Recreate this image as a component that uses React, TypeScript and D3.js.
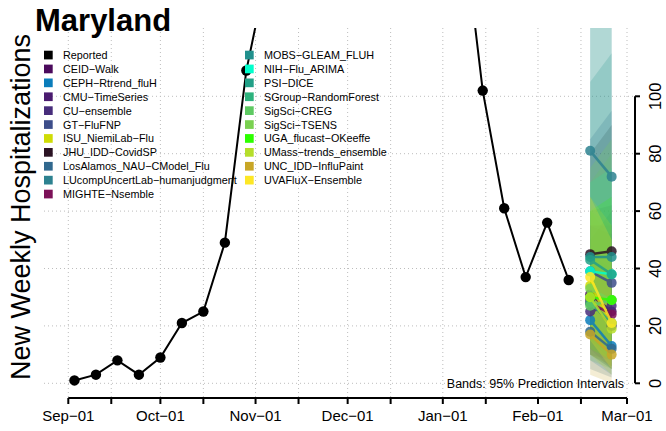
import React from 'react';
import * as d3 from 'd3';

// reported weekly hospitalizations (values above ~124 run off the top of the plot)
const reportedDates = [
  '2023-09-03', '2023-09-10', '2023-09-17', '2023-09-24', '2023-10-01', '2023-10-08',
  '2023-10-15', '2023-10-22', '2023-10-29', '2023-11-05', '2023-11-12', '2023-11-19',
  '2023-11-26', '2023-12-03', '2023-12-10', '2023-12-17', '2023-12-24', '2023-12-31',
  '2024-01-07', '2024-01-14', '2024-01-21', '2024-01-28', '2024-02-04', '2024-02-11',
];
const reportedValues = [
  1, 3, 8, 3, 9, 21, 25, 49, 109, 145, 210, 280,
  340, 390, 430, 470, 440, 330, 165, 102, 61, 37, 56, 36,
];

const forecastDates = ['2024-02-18', '2024-02-25'];

const models = [
  'CEID−Walk', 'CEPH−Rtrend_fluH', 'CMU−TimeSeries', 'CU−ensemble', 'GT−FluFNP',
  'ISU_NiemiLab−Flu', 'JHU_IDD−CovidSP', 'LosAlamos_NAU−CModel_Flu',
  'LUcompUncertLab−humanjudgment', 'MIGHTE−Nsemble', 'MOBS−GLEAM_FLUH', 'NIH−Flu_ARIMA',
  'PSI−DICE', 'SGroup−RandomForest', 'SigSci−CREG', 'SigSci−TSENS', 'UGA_flucast−OKeeffe',
  'UMass−trends_ensemble', 'UNC_IDD−InfluPaint', 'UVAFluX−Ensemble',
];
const modelColors = [
  '#4b0a5c', '#0b7dbb', '#4a1b6f', '#472d7b', '#3d4e8a',
  '#cfdc05', '#2b1324', '#31688e', '#2d8290', '#7c1158',
  '#21908d', '#00ffcc', '#22a087', '#2db27d', '#5ec962',
  '#7ad151', '#2cff00', '#b5de2b', '#c8a626', '#fde725',
];
// median forecasts, week 1 and week 2
const medianWeek1 = [31, 22, 29, 25, 39, 34, 45, 18, 81, 28, 44, 39, 43, 28, 27, 33, 30, 30, 17, 37];
const medianWeek2 = [25, 13, 20, 27, 35, 21, 46, 12, 72, 24, 44, 38, 38, 21, 29, 29, 29, 19, 10, 21];
// 95% prediction intervals
const lowerWeek1 = [10, 8, 12, 10, 15, 15, 20, 5, 40, 10, 20, 20, 15, 10, 8, 10, 12, 10, 3, 15];
const lowerWeek2 = [5, 3, 5, 8, 10, 6, 15, 2, 30, 6, 15, 15, 8, 5, 5, 6, 8, 3, 0, 5];
const upperWeek1 = [60, 45, 55, 50, 85, 60, 80, 40, 200, 55, 105, 70, 130, 60, 70, 75, 60, 65, 40, 65];
const upperWeek2 = [62, 40, 52, 60, 95, 50, 90, 38, 210, 55, 115, 75, 150, 55, 80, 85, 65, 55, 35, 50];

const tickDates = [
  '2023-09-01', '2023-09-15', '2023-10-01', '2023-10-15', '2023-11-01', '2023-11-15',
  '2023-12-01', '2023-12-15', '2024-01-01', '2024-01-15', '2024-02-01', '2024-02-15', '2024-03-01',
];
const tickLabels = ['Sep−01', '', 'Oct−01', '', 'Nov−01', '', 'Dec−01', '', 'Jan−01', '', 'Feb−01', '', 'Mar−01'];
const yTicks = [0, 20, 40, 60, 80, 100];

const font = '"Liberation Sans", Arial, Helvetica, sans-serif';

export default function App() {
  const W = 666;
  const H = 431;
  const plot = { left: 44, right: 635, top: 28, bottom: 398 };

  const x = d3
    .scaleUtc()
    .domain([new Date('2023-09-01'), new Date('2024-03-01')])
    .range([68.3, 627]);
  const y = d3.scaleLinear().domain([0, 100]).range([383.3, 96.3]);

  const reported = reportedDates.map((d, i) => ({ date: new Date(d), value: reportedValues[i] }));
  const line = d3
    .line<{ date: Date; value: number }>()
    .x((d) => x(d.date))
    .y((d) => y(d.value));

  const fx1 = x(new Date(forecastDates[0]));
  const fx2 = x(new Date(forecastDates[1]));

  const legendCol1 = ['Reported', ...models.slice(0, 10)];
  const legendCol1Colors = ['#000000', ...modelColors.slice(0, 10)];
  const legendCol2 = models.slice(10);
  const legendCol2Colors = modelColors.slice(10);
  const rowY = (i: number) => 55 + i * 13.9;

  return (
    <svg
      width={W}
      height={H}
      style={{ position: 'absolute', left: 0, top: 0, background: '#fff' }}
      fontFamily={font}
    >
      <defs>
        <clipPath id="plotClip">
          <rect x={plot.left} y={plot.top} width={plot.right - plot.left} height={plot.bottom - plot.top} />
        </clipPath>
      </defs>

      {/* grid */}
      <g stroke="#bdbdbd" strokeWidth={1} strokeDasharray="1,3">
        {yTicks.map((t) => (
          <line key={'gy' + t} x1={plot.left} x2={plot.right} y1={y(t)} y2={y(t)} />
        ))}
        {tickDates.map((d) => (
          <line key={'gx' + d} x1={x(new Date(d))} x2={x(new Date(d))} y1={plot.top} y2={plot.bottom} />
        ))}
      </g>

      <g clipPath="url(#plotClip)">
        {/* prediction bands */}
        {models.map((m, i) => (
          <polygon
            key={'band' + m}
            points={[
              [fx1, y(lowerWeek1[i])],
              [fx2, y(lowerWeek2[i])],
              [fx2, y(upperWeek2[i])],
              [fx1, y(upperWeek1[i])],
            ]
              .map((p) => p.join(','))
              .join(' ')}
            fill={modelColors[i]}
            fillOpacity={0.2}
          />
        ))}

        {/* median forecasts */}
        {models.map((m, i) => (
          <g key={'med' + m} opacity={0.85}>
            <line
              x1={fx1}
              x2={fx2}
              y1={y(medianWeek1[i])}
              y2={y(medianWeek2[i])}
              stroke={modelColors[i]}
              strokeWidth={2.5}
            />
            <circle cx={fx1} cy={y(medianWeek1[i])} r={5} fill={modelColors[i]} />
            <circle cx={fx2} cy={y(medianWeek2[i])} r={5} fill={modelColors[i]} />
          </g>
        ))}

        {/* reported */}
        <path d={line(reported) ?? ''} fill="none" stroke="#000" strokeWidth={2} />
        {reported.map((d) => (
          <circle key={'r' + d.date.toISOString()} cx={x(d.date)} cy={y(d.value)} r={5.2} fill="#000" />
        ))}
      </g>

      {/* legend */}
      <g fontSize={10.8} fill="#000">
        {legendCol1.map((name, i) => (
          <g key={'l1' + name}>
            <rect x={44} y={rowY(i) - 4.3} width={8.7} height={8.7} fill={legendCol1Colors[i]} />
            <text x={63} y={rowY(i)} dominantBaseline="central">
              {name}
            </text>
          </g>
        ))}
        {legendCol2.map((name, i) => (
          <g key={'l2' + name}>
            <rect x={245} y={rowY(i) - 4.3} width={8.7} height={8.7} fill={legendCol2Colors[i]} />
            <text x={264} y={rowY(i)} dominantBaseline="central">
              {name}
            </text>
          </g>
        ))}
      </g>

      {/* x axis */}
      <g stroke="#000" strokeWidth={2}>
        <line x1={x(new Date(tickDates[0]))} x2={x(new Date(tickDates[tickDates.length - 1]))} y1={plot.bottom} y2={plot.bottom} />
        {tickDates.map((d) => (
          <line key={'xt' + d} x1={x(new Date(d))} x2={x(new Date(d))} y1={plot.bottom} y2={plot.bottom + 6} />
        ))}
      </g>
      <g fontSize={15} textAnchor="middle">
        {tickDates.map((d, i) =>
          tickLabels[i] ? (
            <text key={'xl' + d} x={x(new Date(d))} y={421}>
              {tickLabels[i]}
            </text>
          ) : null,
        )}
      </g>

      {/* y axis (right) */}
      <g stroke="#000" strokeWidth={2}>
        <line x1={plot.right} x2={plot.right} y1={y(0)} y2={y(100)} />
        {yTicks.map((t) => (
          <line key={'yt' + t} x1={plot.right} x2={plot.right + 5} y1={y(t)} y2={y(t)} />
        ))}
      </g>
      <g fontSize={16.5} textAnchor="middle">
        {yTicks.map((t) => (
          <text key={'yl' + t} transform={`translate(660.5,${y(t)}) rotate(-90)`}>
            {t}
          </text>
        ))}
      </g>

      {/* annotations */}
      <text x={624} y={388} fontSize={12.5} textAnchor="end">
        Bands: 95% Prediction Intervals
      </text>
      <text transform="translate(30,207) rotate(-90)" fontSize={27} textAnchor="middle">
        New Weekly Hospitalizations
      </text>
      <text x={35} y={31} fontSize={31} fontWeight="bold">
        Maryland
      </text>
    </svg>
  );
}
